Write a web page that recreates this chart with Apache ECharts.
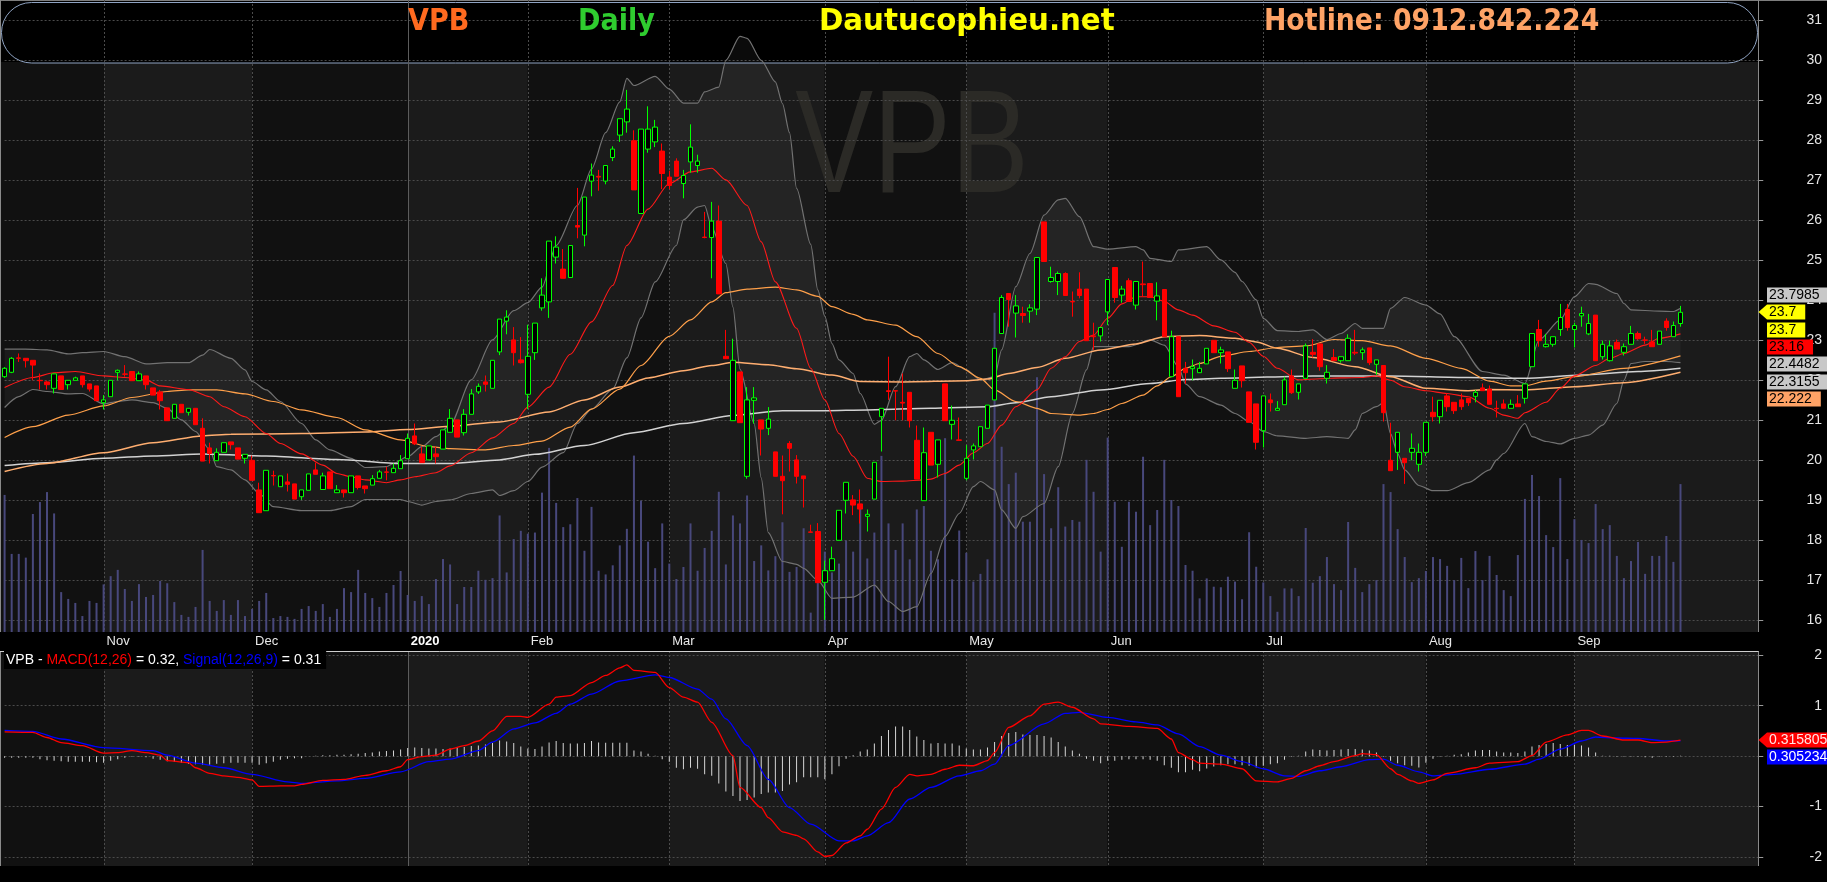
<!DOCTYPE html>
<html><head><meta charset="utf-8">
<script src="https://cdn.jsdelivr.net/npm/echarts@6/dist/echarts.min.js"></script>
<style>html,body{margin:0;padding:0;background:#000;}#c{width:1827px;height:882px;}</style>
</head><body><div id="c"></div>
<script>
// ---------------- DATA ----------------
const tradingDays = [
 ['2019-10',[14,15,16,17,18,21,22,23,24,25,28,29,30,31]],
 ['2019-11',[1,4,5,6,7,8,11,12,13,14,15,18,19,20,21,22,25,26,27,28,29]],
 ['2019-12',[2,3,4,5,6,9,10,11,12,13,16,17,18,19,20,23,24,25,26,27,30,31]],
 ['2020-01',[2,3,6,7,8,9,10,13,14,15,16,17,20,21,22,30,31]],
 ['2020-02',[3,4,5,6,7,10,11,12,13,14,17,18,19,20,21,24,25,26,27,28]],
 ['2020-03',[2,3,4,5,6,9,10,11,12,13,16,17,18,19,20,23,24,25,26,27,30,31]],
 ['2020-04',[1,3,6,7,8,9,10,13,14,15,16,17,20,21,22,23,24,27,28,29]],
 ['2020-05',[4,5,6,7,8,11,12,13,14,15,18,19,20,21,22,25,26,27,28,29]],
 ['2020-06',[1,2,3,4,5,8,9,10,11,12,15,16,17,18,19,22,23,24,25,26,29,30]],
 ['2020-07',[1,2,3,6,7,8,9,10,13,14,15,16,17,20,21,22,23,24,27,28,29,30,31]],
 ['2020-08',[3,4,5,6,7,10,11,12,13,14,17,18,19,20,21,24,25,26,27,28,31]],
 ['2020-09',[1,3,4,7,8,9,10,11,14,15,16,17,18,21,22,23]]
];
const futureSlots = 11;
const monthNames = ['Jan','Feb','Mar','Apr','May','Jun','Jul','Aug','Sep','Oct','Nov','Dec'];

// [open, close, low, high]
const candles = [
[22.09,22.30,22.06,22.33],[22.20,22.55,22.18,22.58],[22.56,22.55,22.46,22.67],[22.55,22.49,22.32,22.55],[22.50,22.38,22.00,22.50],
[22.00,21.99,21.77,22.17],[21.96,21.89,21.77,21.99],[21.80,22.16,21.67,22.17],[22.11,21.77,21.77,22.11],[21.89,22.00,21.77,22.00],
[22.00,22.06,22.00,22.09],[22.11,21.89,21.82,22.11],[21.91,21.78,21.72,21.91],[21.86,21.49,21.49,21.86],[21.44,21.51,21.27,21.63],
[21.59,22.00,21.59,22.00],[22.20,22.25,22.00,22.27],[22.16,22.15,22.09,22.38],[22.22,21.99,21.99,22.22],[21.99,22.16,21.99,22.22],
[22.11,21.89,21.77,22.11],[21.81,21.63,21.63,21.81],[21.71,21.49,21.27,21.76],[21.31,20.99,20.99,21.31],[21.05,21.40,21.05,21.40],
[21.40,21.19,21.19,21.40],[21.20,21.30,21.12,21.30],[21.30,20.89,20.89,21.30],[20.80,19.98,19.98,21.05],[20.31,20.17,19.92,20.44],
[19.99,20.20,19.99,20.30],[20.20,20.44,20.20,20.44],[20.46,20.39,20.27,20.46],[20.31,20.03,20.03,20.31],[20.05,20.15,19.92,20.15],
[20.00,19.50,19.50,20.12],[19.26,18.69,18.69,19.44],[18.74,19.75,18.74,19.75],[19.62,19.61,19.37,19.74],[19.34,19.61,19.34,19.61],
[19.46,19.40,19.22,19.67],[19.41,19.03,19.03,19.41],[19.09,19.26,19.01,19.26],[19.25,19.66,19.25,19.66],[19.76,19.65,19.65,19.94],
[19.27,19.61,19.27,19.69],[19.71,19.29,19.29,19.71],[19.19,19.26,19.19,19.38],[19.26,19.19,19.07,19.26],[19.19,19.61,19.19,19.61],
[19.61,19.32,19.27,19.61],[19.36,19.29,19.17,19.36],[19.38,19.54,19.38,19.63],[19.55,19.71,19.55,19.76],[19.71,19.70,19.50,19.84],
[19.69,19.80,19.69,19.92],[19.79,19.99,19.79,20.13],[20.04,20.55,20.04,20.67],[20.61,20.41,20.38,20.92],[20.16,19.94,19.94,20.34],
[20.01,20.36,20.01,20.36],[20.16,20.09,19.92,20.34],[20.28,20.76,20.28,20.76],[20.70,21.05,20.70,21.28],[21.01,20.58,20.58,21.01],
[20.69,21.15,20.62,21.28],[21.15,21.66,21.15,21.78],[21.71,21.85,21.66,21.92],[21.96,21.90,21.72,22.12],[21.80,22.50,21.80,22.50],
[22.71,23.53,22.63,23.53],[23.48,23.58,23.15,23.75],[23.01,22.69,22.37,23.33],[22.51,22.44,22.42,23.08],[21.65,22.60,21.28,23.39],
[22.69,23.43,22.51,23.43],[23.81,24.13,23.74,24.55],[23.96,25.48,23.56,25.48],[25.08,25.33,24.92,25.60],[24.78,24.55,24.55,25.28],
[24.57,25.37,24.57,25.37],[25.87,25.83,25.55,26.81],[25.63,26.58,25.35,26.58],[26.98,27.13,26.60,27.42],[27.10,27.08,26.74,27.26],
[26.98,27.37,26.90,27.37],[27.57,27.78,27.48,27.85],[28.13,28.54,27.96,28.54],[28.46,28.78,28.19,29.26],[27.99,26.76,26.76,28.25],
[26.17,28.28,26.17,28.28],[27.78,28.28,27.69,28.85],[27.96,28.33,27.83,28.51],[27.73,27.17,26.78,27.92],[27.08,26.87,26.78,27.24],
[27.48,27.10,27.10,27.55],[26.92,27.12,26.55,27.26],[27.46,27.83,27.19,28.40],[27.37,27.48,27.19,27.64],[25.58,25.57,25.55,26.21],
[25.57,25.98,24.55,26.46],[25.98,24.16,24.16,26.37],[22.60,22.54,22.54,23.26],[20.99,22.50,20.99,23.04],[22.21,20.94,20.94,22.21],
[19.60,21.51,19.54,21.83],[21.50,21.56,20.92,21.83],[21.01,20.78,20.12,21.01],[20.80,21.03,20.63,21.33],[20.21,19.60,19.60,20.21],
[19.60,19.49,18.65,20.12],[20.42,20.30,19.72,20.48],[20.01,19.60,19.42,20.13],[19.61,19.54,18.82,19.61],[18.21,18.20,18.19,18.39],
[18.22,16.94,16.94,18.43],[16.95,17.24,16.01,17.49],[17.24,17.54,17.24,17.84],[18.00,18.75,18.00,18.75],[19.00,19.45,18.67,19.45],
[19.01,18.88,18.63,19.13],[18.91,18.78,18.42,19.27],[18.60,18.65,18.22,18.77],[19.03,19.95,19.03,19.95],[21.09,21.30,20.22,21.30],
[21.74,21.72,21.51,22.59],[21.74,21.73,21.00,21.74],[21.45,21.43,21.00,22.17],[21.70,20.99,20.82,21.70],[20.50,19.53,19.53,20.87],
[18.99,20.19,18.99,20.82],[20.70,19.88,19.88,20.70],[19.90,20.51,19.57,20.51],[21.91,20.99,20.99,21.91],[20.90,21.00,20.52,21.37],
[20.51,20.50,20.50,21.07],[19.55,20.05,19.50,20.38],[20.26,20.36,20.02,20.42],[20.34,20.84,20.34,20.84],[20.80,21.38,20.80,21.38],
[21.51,22.80,21.51,22.80],[23.17,24.07,23.17,24.13],[24.17,24.02,23.34,24.17],[23.68,23.86,23.07,24.13],[23.67,23.62,23.44,23.84],
[23.73,23.81,23.44,23.90],[23.78,25.07,23.63,25.07],[25.96,24.97,24.97,25.96],[24.47,24.57,24.44,24.84],[24.47,24.67,24.13,24.72],
[24.67,24.12,24.12,24.70],[23.97,23.96,23.59,24.22],[24.28,24.12,24.05,24.70],[24.28,22.99,22.99,24.28],[23.11,23.09,22.76,23.44],
[23.11,23.32,22.97,23.32],[23.71,24.52,23.38,24.52],[24.82,24.07,23.94,24.82],[24.13,24.28,23.94,24.36],[24.49,23.97,23.97,24.55],
[23.88,24.47,23.77,24.47],[24.41,24.39,24.09,24.97],[24.42,24.07,24.07,24.42],[23.98,24.11,23.50,24.45],[24.27,23.09,23.09,24.27],
[22.09,23.09,22.09,23.24],[23.09,21.59,21.59,23.09],[22.30,22.19,21.91,22.46],[22.29,22.34,22.00,22.52],[22.19,22.30,22.19,22.46],
[22.41,22.80,22.41,22.80],[23.00,22.69,22.69,23.00],[22.69,22.76,22.42,22.84],[22.71,22.29,22.21,22.71],[21.80,22.00,21.80,22.27],
[22.36,21.99,21.82,22.36],[21.71,20.95,20.95,21.71],[21.41,20.45,20.27,21.41],[20.74,21.61,20.32,21.61],[21.51,21.44,21.22,21.67],
[21.25,21.30,21.25,21.48],[21.39,22.01,21.39,22.09],[22.11,21.69,21.66,22.27],[21.70,21.91,21.52,21.91],[22.05,22.86,22.05,22.92],
[22.70,22.65,22.57,23.03],[22.91,22.34,22.24,22.91],[22.05,22.20,21.92,22.38],[22.57,22.49,22.49,22.78],[22.49,22.59,22.44,22.59],
[22.49,23.05,22.49,23.15],[22.70,22.68,22.63,23.26],[22.69,22.76,22.51,22.82],[22.81,22.44,22.38,22.81],[22.40,22.51,22.13,22.51],
[22.37,21.19,20.97,22.37],[20.00,19.74,19.74,20.94],[20.20,20.70,19.76,20.70],[20.05,19.94,19.41,20.05],[20.20,20.30,20.00,20.67],
[19.90,20.20,19.72,20.42],[20.20,20.95,20.11,20.95],[21.20,21.09,20.97,21.59],[21.09,21.50,20.92,21.50],[21.61,21.34,21.22,21.67],
[21.45,21.24,21.16,21.45],[21.51,21.34,21.26,21.67],[21.55,21.44,21.36,21.55],[21.60,21.70,21.45,21.76],[21.81,21.74,21.74,21.92],
[21.78,21.40,21.40,21.87],[21.30,21.29,21.07,21.49],[21.41,21.30,21.30,21.52],[21.30,21.40,21.30,21.52],[21.41,21.34,21.34,21.63],
[21.55,21.91,21.42,21.91],[22.34,23.17,22.34,23.17],[23.27,22.99,22.84,23.51],[22.84,22.90,22.82,23.16],[22.90,23.09,22.84,23.09],
[23.27,23.57,23.11,23.91],[23.77,23.32,23.24,23.91],[23.27,23.37,22.82,23.44],[23.61,23.67,23.34,23.84],[23.16,23.42,23.13,23.66],
[23.63,22.49,22.49,23.63],[22.59,22.90,22.52,22.99],[22.49,22.86,22.47,22.99],[22.95,22.78,22.78,23.02],[22.70,22.84,22.62,22.92],
[22.90,23.17,22.90,23.36],[23.17,23.04,23.01,23.22],[23.01,23.00,22.91,23.09],[22.96,22.84,22.84,23.26],[22.90,23.23,22.90,23.23],
[23.48,23.32,23.24,23.55],[23.09,23.37,23.09,23.47],[23.42,23.70,23.34,23.86]
];

// volume, millions of shares
const volume = [
4.81,2.74,2.74,2.61,4.14,4.56,4.91,4.16,1.40,1.16, 1.02,0.56,1.09,1.02,1.67,1.96,2.18,1.51,1.09,1.68,
1.23,1.30,1.79,1.71,1.05,0.60,0.53,0.88,2.88,1.09, 0.74,1.12,0.60,1.12,0.56,0.81,1.09,1.37,0.49,0.56,
0.53,0.46,0.81,0.91,0.74,0.98,0.53,0.81,1.54,1.40, 2.18,1.37,1.19,0.88,1.37,1.65,2.14,1.30,1.09,1.26,
0.98,1.86,2.56,2.37,0.98,1.58,1.58,2.15,1.83,1.89, 4.09,2.09,3.26,3.55,3.45,3.49,4.89,6.46,4.53,3.68,
3.78,4.70,2.85,4.39,2.15,2.02,2.34,3.04,3.62,6.19, 4.61,3.17,2.24,3.81,2.40,1.86,2.28,3.81,2.15,2.95,
3.55,4.92,2.37,4.09,3.81,4.79,2.49,3.04,2.16,2.66, 3.85,2.11,2.28,3.64,0.68,1.73,2.82,2.09,2.40,3.21,
2.82,4.34,2.58,3.49,6.18,3.81,2.88,3.81,2.55,4.30, 4.42,2.85,2.55,6.80,1.85,3.56,2.78,1.77,2.04,2.55,
11.2,6.50,5.19,5.59,3.87,3.87,8.94,5.54,3.64,5.08, 3.70,3.93,3.87,6.04,4.92,2.82,6.82,4.57,2.99,4.57,
4.22,6.15,3.75,4.28,6.04,4.63,4.42,2.35,2.15,1.18, 1.88,1.59,1.57,1.94,1.77,1.15,3.50,2.29,1.74,1.26,
0.71,1.53,1.53,1.26,3.65,1.73,1.96,2.63,1.68,1.47, 3.86,2.25,1.40,1.68,1.82,5.19,4.91,3.61,2.63,1.75,
1.89,2.14,2.63,2.56,2.32,1.82,2.60,1.54,2.84,1.82, 2.67,2.00,1.47,1.26,2.70,4.67,5.51,4.77,3.40,2.98,
5.40,2.56,3.96,3.23,3.12,4.49,3.61,3.75,2.67,1.89, 2.49,3.16,2.04,2.67,2.67,3.37,2.46,5.19
];

// moving averages and Bollinger bands, read as [day index, value]
const ma20 = [[0,21.82],[4,22.07],[7,22.19],[10,22.22],[14,22.11],[17,22.07],[20,22.01],[22,21.86],[26,21.77],[29,21.59],[31,21.34],[34,21.09],[37,20.67],[39,20.42],[42,20.16],[45,19.88],[47,19.67],[49,19.59],[51,19.51],[54,19.44],[56,19.51],[58,19.59],[61,19.69],[63,19.86],[66,20.19],[69,20.56],[72,20.92],[74,21.33],[77,21.83],[80,22.65],[83,23.46],[86,24.37],[88,25.37],[91,26.28],[94,26.92],[97,27.21],[100,27.30],[102,27.01],[105,26.37],[107,25.46],[109,24.46],[112,23.30],[114,22.30],[116,21.51],[118,20.67],[120,20.10],[122,19.55],[124,19.47],[127,19.48],[130,19.51],[131,19.53],[133,19.67],[135,19.88],[137,20.19],[139,20.42],[141,20.88],[143,21.34],[146,21.76],[148,22.30],[150,22.59],[152,22.97],[154,23.13],[156,23.55],[158,23.91],[160,24.09],[162,24.09],[164,23.97],[166,23.76],[168,23.63],[171,23.36],[174,23.20],[176,22.95],[178,22.60],[180,22.30],[183,22.01],[186,22.04],[189,22.06],[192,22.07],[194,22.11],[196,22.00],[198,21.84],[201,21.74],[204,21.67],[207,21.59],[210,21.30],[212,21.13],[214,21.05],[215,21.19],[218,21.45],[220,21.80],[222,22.11],[225,22.37],[227,22.55],[229,22.67],[232,22.88],[234,23.05],[237,23.16]];
const ma50 = [[0,20.57],[4,20.84],[9,21.13],[14,21.36],[18,21.57],[23,21.72],[26,21.76],[30,21.76],[34,21.66],[38,21.47],[42,21.26],[47,21.07],[51,20.76],[56,20.51],[60,20.34],[63,20.29],[68,20.26],[72,20.37],[76,20.48],[80,20.83],[83,21.28],[87,21.78],[90,22.37],[94,23.10],[97,23.51],[100,23.96],[102,24.19],[105,24.28],[109,24.33],[112,24.26],[115,24.10],[117,23.84],[120,23.65],[122,23.51],[126,23.38],[129,23.09],[132,22.67],[135,22.34],[138,22.05],[140,21.76],[143,21.47],[146,21.30],[148,21.17],[152,21.13],[154,21.17],[156,21.27],[158,21.42],[161,21.63],[163,21.86],[165,22.09],[167,22.30],[169,22.42],[172,22.60],[176,22.72],[180,22.82],[184,22.86],[188,23.02],[192,22.99],[196,22.86],[201,22.55],[206,22.30],[210,21.98],[213,21.86],[215,21.86],[218,21.98],[222,22.09],[229,22.30],[237,22.61]];
const ma100 = [[0,19.72],[6,19.92],[14,20.19],[21,20.44],[28,20.61],[32,20.65],[42,20.67],[51,20.71],[57,20.77],[63,20.85],[70,20.96],[77,21.21],[82,21.51],[87,21.83],[91,22.06],[96,22.24],[100,22.37],[103,22.45],[108,22.39],[112,22.29],[117,22.13],[121,21.97],[127,21.96],[136,21.99],[139,22.03],[142,22.17],[146,22.32],[150,22.55],[155,22.76],[160,22.91],[164,23.09],[169,23.12],[174,23.05],[177,22.96],[180,22.80],[185,22.57],[191,22.34],[196,22.09],[201,21.80],[207,21.74],[210,21.77],[215,21.76],[222,21.84],[229,21.94],[237,22.20]];
const ma200 = [[0,19.87],[6,19.94],[14,20.05],[21,20.11],[28,20.16],[37,20.11],[47,20.02],[56,19.92],[63,19.92],[70,20.01],[75,20.15],[82,20.37],[89,20.69],[96,20.92],[103,21.12],[110,21.24],[116,21.24],[122,21.26],[131,21.30],[139,21.34],[143,21.44],[148,21.59],[155,21.76],[162,21.92],[167,22.02],[172,22.05],[185,22.11],[196,22.11],[207,22.07],[215,22.05],[223,22.13],[231,22.22],[237,22.30]];
const bbUpper = [[0,22.78],[3,22.78],[6,22.76],[9,22.66],[11,22.69],[14,22.72],[17,22.59],[20,22.41],[23,22.44],[26,22.44],[28,22.63],[29,22.77],[32,22.55],[34,22.26],[35,21.97],[37,21.76],[39,21.47],[42,20.92],[44,20.51],[46,20.26],[49,20.05],[51,19.82],[54,19.84],[55,19.92],[57,20.09],[59,20.34],[61,20.59],[63,20.88],[66,22.01],[69,23.01],[72,23.74],[74,23.94],[76,24.33],[78,25.37],[81,26.37],[83,27.28],[85,28.19],[87,28.96],[88,29.55],[89,29.37],[92,29.60],[94,29.28],[96,28.93],[98,28.93],[99,29.21],[101,29.33],[102,30.00],[104,30.60],[105,30.55],[107,30.00],[109,29.46],[110,28.92],[111,28.19],[112,26.80],[114,25.40],[115,24.26],[116,23.60],[117,22.92],[118,22.51],[120,22.17],[121,21.67],[123,20.90],[124,21.00],[126,21.84],[128,22.59],[129,22.67],[130,22.51],[132,22.27],[134,22.44],[136,22.26],[138,22.01],[140,22.09],[141,22.76],[143,24.34],[145,25.17],[147,26.13],[149,26.51],[150,26.55],[152,26.09],[154,25.34],[156,25.28],[160,25.34],[161,25.26],[162,25.05],[165,24.97],[166,25.26],[170,25.34],[172,25.01],[174,24.70],[175,24.47],[177,24.01],[178,23.55],[180,23.24],[183,23.22],[185,23.26],[187,23.02],[189,23.17],[191,23.42],[192,23.30],[195,23.30],[196,23.80],[198,24.07],[201,23.88],[203,23.66],[205,23.09],[209,22.22],[212,22.13],[215,21.92],[217,23.01],[220,23.51],[222,24.09],[224,24.42],[225,24.40],[228,24.17],[229,23.92],[230,23.76],[234,23.73],[236,23.72],[237,23.80]];
const bbLower = [[0,21.32],[2,21.59],[4,21.77],[6,21.72],[9,21.66],[11,21.67],[14,21.41],[16,21.47],[18,21.51],[21,21.44],[23,21.30],[25,21.01],[27,20.72],[29,20.27],[30,19.84],[32,19.76],[34,19.51],[36,19.17],[38,18.84],[42,18.74],[46,18.74],[49,18.84],[51,19.02],[56,19.02],[57,18.97],[59,18.88],[61,18.97],[63,19.01],[66,19.17],[69,19.26],[70,19.12],[72,19.24],[74,19.47],[76,19.83],[79,20.19],[81,20.92],[83,21.28],[86,21.78],[88,22.56],[90,23.56],[92,24.46],[95,25.37],[96,26.01],[98,26.33],[99,26.37],[100,25.83],[102,24.92],[103,23.83],[104,22.28],[106,20.92],[107,19.56],[108,18.19],[110,17.47],[112,17.40],[113,17.30],[115,17.00],[117,16.55],[120,16.58],[123,16.88],[125,16.47],[127,16.22],[129,16.34],[131,17.17],[133,18.09],[135,18.67],[137,19.34],[138,19.47],[140,19.26],[141,18.76],[143,18.30],[144,18.59],[147,18.92],[149,19.84],[151,21.17],[153,22.26],[154,22.84],[159,22.84],[162,23.01],[164,22.88],[166,22.34],[167,21.91],[169,21.59],[172,21.38],[174,21.17],[176,20.97],[178,20.72],[180,20.61],[184,20.55],[187,20.59],[190,20.55],[191,20.76],[192,21.17],[194,21.34],[195,21.44],[196,20.67],[197,20.17],[198,19.76],[200,19.37],[202,19.24],[204,19.24],[207,19.44],[210,19.76],[211,20.01],[212,20.17],[215,20.92],[216,20.59],[218,20.47],[220,20.41],[222,20.55],[224,20.63],[226,20.88],[228,21.42],[229,22.00],[230,22.42],[232,22.47],[235,22.47],[237,22.44]];

// MACD(12,26), signal(12,26,9), read as [day index, value]
const macdLine = [[0,0.48],[4,0.47],[6,0.37],[8,0.27],[11,0.21],[14,0.06],[16,0.07],[18,0.11],[20,0.07],[22,0.02],[23,-0.09],[26,-0.13],[27,-0.23],[29,-0.34],[31,-0.39],[33,-0.42],[35,-0.47],[36,-0.60],[39,-0.59],[41,-0.59],[42,-0.56],[45,-0.48],[48,-0.46],[51,-0.38],[54,-0.29],[56,-0.21],[57,-0.07],[59,-0.01],[61,0.02],[63,0.14],[65,0.21],[67,0.30],[69,0.50],[71,0.79],[73,0.79],[74,0.77],[77,1.03],[78,1.17],[80,1.20],[83,1.46],[85,1.60],[87,1.75],[88,1.81],[89,1.70],[92,1.66],[94,1.36],[96,1.17],[98,1.07],[100,0.67],[103,0.01],[104,-0.62],[107,-1.02],[108,-1.22],[110,-1.50],[112,-1.57],[113,-1.64],[115,-1.90],[116,-1.99],[117,-1.97],[119,-1.72],[121,-1.58],[122,-1.45],[124,-1.05],[126,-0.62],[128,-0.36],[129,-0.39],[131,-0.36],[133,-0.26],[135,-0.18],[137,-0.19],[139,-0.09],[140,0.07],[142,0.57],[145,0.80],[147,1.03],[149,1.07],[151,0.97],[154,0.74],[155,0.64],[159,0.59],[163,0.55],[165,0.34],[166,0.07],[168,-0.07],[169,-0.14],[172,-0.16],[175,-0.25],[177,-0.49],[180,-0.51],[182,-0.44],[184,-0.29],[186,-0.19],[188,-0.11],[191,0.01],[192,0.05],[194,0.03],[196,-0.25],[197,-0.36],[199,-0.49],[200,-0.54],[202,-0.47],[204,-0.34],[208,-0.23],[210,-0.14],[214,-0.11],[216,0.01],[218,0.28],[221,0.42],[223,0.51],[224,0.51],[226,0.40],[229,0.32],[231,0.32],[233,0.27],[235,0.28],[237,0.316]];
const signalLine = [[0,0.51],[4,0.49],[8,0.34],[14,0.17],[21,0.11],[23,0.02],[27,-0.14],[31,-0.23],[35,-0.36],[40,-0.51],[42,-0.54],[47,-0.49],[51,-0.44],[56,-0.31],[60,-0.11],[63,-0.06],[67,0.11],[69,0.28],[72,0.54],[75,0.66],[78,0.85],[80,1.03],[83,1.23],[87,1.49],[92,1.61],[94,1.56],[98,1.33],[100,1.13],[102,0.74],[105,0.21],[108,-0.46],[111,-1.02],[114,-1.35],[118,-1.68],[120,-1.68],[122,-1.58],[125,-1.32],[128,-0.85],[131,-0.62],[135,-0.39],[138,-0.29],[140,-0.16],[142,0.21],[147,0.64],[150,0.85],[152,0.87],[156,0.77],[160,0.68],[163,0.62],[166,0.44],[169,0.19],[172,0.02],[175,-0.11],[178,-0.25],[181,-0.39],[183,-0.40],[186,-0.29],[189,-0.21],[193,-0.07],[195,-0.06],[197,-0.18],[200,-0.31],[202,-0.39],[205,-0.36],[210,-0.26],[215,-0.16],[217,-0.06],[220,0.14],[223,0.30],[225,0.38],[228,0.36],[231,0.35],[235,0.30],[237,0.305]];
const macdHist = [
-0.03,-0.03,-0.03,-0.03,-0.03,-0.06,-0.08,-0.09,-0.10,-0.11, -0.11,-0.11,-0.11,-0.12,-0.13,-0.09,-0.06,-0.03,-0.01,-0.01,
-0.02,-0.05,-0.07,-0.10,-0.11,-0.13,-0.15,-0.16,-0.17,-0.17, -0.15,-0.14,-0.13,-0.13,-0.13,-0.13,-0.17,-0.14,-0.11,-0.07,
-0.05,-0.04,-0.04,0.00,0.01,0.02,0.02,0.03,0.03,0.04, 0.05,0.06,0.07,0.09,0.10,0.11,0.13,0.16,0.17,0.16,
0.15,0.15,0.14,0.15,0.17,0.18,0.20,0.21,0.23,0.26, 0.31,0.29,0.26,0.19,0.15,0.14,0.19,0.27,0.30,0.26,
0.25,0.25,0.26,0.30,0.27,0.265,0.265,0.265,0.265,0.11, 0.09,0.05,0.01,-0.06,-0.11,-0.23,-0.26,-0.23,-0.25,-0.36,
-0.39,-0.54,-0.70,-0.79,-0.89,-0.87,-0.82,-0.75,-0.72,-0.72, -0.69,-0.56,-0.52,-0.42,-0.42,-0.42,-0.46,-0.36,-0.20,-0.05,
0.02,0.09,0.13,0.25,0.40,0.52,0.59,0.59,0.52,0.39, 0.32,0.25,0.26,0.25,0.25,0.21,0.15,0.13,0.13,0.17,
0.28,0.40,0.46,0.48,0.43,0.42,0.42,0.40,0.37,0.28, 0.19,0.11,0.05,-0.05,-0.09,-0.14,-0.09,-0.09,-0.07,-0.06,
-0.06,-0.06,-0.07,-0.09,-0.18,-0.23,-0.32,-0.32,-0.27,-0.30, -0.245,-0.205,-0.18,-0.16,-0.16,-0.18,-0.19,-0.225,-0.19,-0.16,
-0.14,-0.07,-0.01,0.01,0.09,0.13,0.12,0.11,0.12,0.13, 0.14,0.14,0.13,0.11,0.07,-0.01,-0.09,-0.14,-0.18,-0.19,
-0.225,-0.13,-0.05,-0.01,0.01,0.03,0.04,0.07,0.11,0.12, 0.12,0.09,0.07,0.07,0.06,0.09,0.19,0.22,0.24,0.26,
0.24,0.22,0.22,0.21,0.17,0.07,0.01,0.01,-0.01,-0.01, -0.01,-0.01,-0.02,-0.03,-0.01,-0.01,-0.01,0.01
];

const priceTicks = {min:16, max:31, step:1};
const macdTicks = {min:-2, max:2, step:1};
const priceTags = [
  {v:'23.7985', bg:'#c8c8c8', fg:'#000'},
  {v:'23.7', bg:'#ffff00', fg:'#000', arrow:true},
  {v:'23.7', bg:'#ffff00', fg:'#000'},
  {v:'23.16', bg:'#ff0000', fg:'#000'},
  {v:'22.4482', bg:'#c8c8c8', fg:'#000'},
  {v:'22.3155', bg:'#c8c8c8', fg:'#000'},
  {v:'22.222', bg:'#ffa366', fg:'#000'}
];
const macdTags = [
  {v:'0.315805', bg:'#ff0000', fg:'#ffe6e6', arrow:true},
  {v:'0.305234', bg:'#0000ff', fg:'#ffffff'}
];
const header = [
  {text:'VPB', color:'#ff6a1f'},
  {text:'Daily', color:'#2fcc2f'},
  {text:'Dautucophieu.net', color:'#ffff00'},
  {text:'Hotline: 0912.842.224', color:'#ffa366'}
];
const ticker = 'VPB';

// ---------------- BUILD ----------------
const categories = [];
tradingDays.forEach(([ym, days]) => days.forEach(d => categories.push(ym + '-' + String(d).padStart(2,'0'))));
const nDays = categories.length;
for (let k = 0; k < futureSlots; k++) categories.push('f' + k);
const monthStarts = [];
categories.forEach((c, i) => { if (i < nDays && (i === 0 || c.slice(0,7) !== categories[i-1].slice(0,7))) monthStarts.push(i); });
const monthStartSet = new Set(monthStarts);

const DARK = '#111111', LIGHT = '#1b1b1b', GRIDC = '#4b4b4b';
const FONT = '"Liberation Sans", Arial, sans-serif';
const GL = 4.6, GR = 68.74;
const gridBase = {left: GL, right: GR, containLabel: false, outerBoundsMode: 'none'};

function xAx(gi, labels) {
  return {
    type: 'category', gridIndex: gi, data: categories, boundaryGap: false,
    axisLine: {show: false}, axisTick: {show: false}, splitLine: {show: false},
    axisLabel: labels ? {
      show: true, interval: (idx) => idx > 0 && monthStartSet.has(idx),
      formatter: (val) => { const m = +val.slice(5,7); return m === 1 ? '{b|' + val.slice(0,4) + '}' : monthNames[m-1]; },
      align: 'left', verticalAlign: 'top', margin: 3, padding: [0,0,0,3],
      color: '#e8e8e8', fontSize: 13, fontFamily: FONT,
      rich: {b: {fontWeight: 'bold', fontSize: 13, color: '#ffffff', fontFamily: FONT}}
    } : {show: false}
  };
}
function yAxVal(gi, t) {
  return {
    type: 'value', gridIndex: gi, position: 'right', min: t.min, max: t.max, interval: t.step,
    axisLine: {show: false},
    axisTick: {show: true, length: 5, lineStyle: {color: '#9a9a9a'}},
    axisLabel: {color: '#e6e6e6', fontSize: 14, fontFamily: FONT, align: 'right', margin: 63.7},
    splitLine: {show: true, lineStyle: {color: GRIDC, type: [2,2], width: 1}}
  };
}

function bandsRender(params, api) {
  const cs = params.coordSys; const kids = [];
  for (let k = 0; k < monthStarts.length; k++) {
    const x0 = k === 0 ? 0 : api.coord([monthStarts[k], 0])[0];
    const x1 = k + 1 < monthStarts.length ? api.coord([monthStarts[k+1], 0])[0] : cs.x + cs.width;
    kids.push({type: 'rect', shape: {x: x0, y: cs.y, width: x1 - x0, height: cs.height}, style: {fill: k % 2 ? LIGHT : DARK}});
  }
  return {type: 'group', children: kids};
}
function frameRender(y0, y1, topBorder) {
  return function (params, api) {
    const cs = params.coordSys; const kids = [];
    for (let k = 1; k < monthStarts.length; k++) {
      const x = Math.round(api.coord([monthStarts[k], 0])[0]) + 0.5;
      const isYear = categories[monthStarts[k]].slice(5,7) === '01';
      const st = isYear ? {stroke: '#5c5c5c', lineWidth: 1} : {stroke: GRIDC, lineWidth: 1, lineDash: [2,2]};
      kids.push({type: 'line', shape: {x1: x, y1: y0, x2: x, y2: y1}, style: st});
    }
    const xr = Math.round(cs.x + cs.width) + 0.5;
    kids.push({type: 'line', shape: {x1: xr, y1: y0, x2: xr, y2: y1}, style: {stroke: '#8a8a8a', lineWidth: 1}});
    kids.push({type: 'line', shape: {x1: 0.5, y1: y0, x2: 0.5, y2: y1}, style: {stroke: '#8a8a8a', lineWidth: 1}});
    if (topBorder) kids.push({type: 'line', shape: {x1: 0, y1: y0 + 0.5, x2: xr, y2: y0 + 0.5}, style: {stroke: '#cfcfcf', lineWidth: 1}});
    return {type: 'group', children: kids};
  };
}
function bbFillRender(params, api) {
  const up = bbUpper.map(p => api.coord(p));
  const lo = bbLower.map(p => api.coord(p)).reverse();
  return {type: 'polygon', shape: {points: up.concat(lo)}, style: {fill: 'rgba(255,255,255,0.045)'}};
}
function lineSeries(data, color, width, z) {
  return {type: 'line', xAxisIndex: 1, yAxisIndex: 1, data: data, showSymbol: false, symbol: 'none',
    smooth: 0.25, smoothMonotone: 'x', lineStyle: {color: color, width: width}, z: z, silent: true};
}

const chart = echarts.init(document.getElementById('c'), null, {renderer: 'canvas'});
const option = {
  backgroundColor: '#000',
  animation: false,
  grid: [
    Object.assign({top: 62, height: 570}, gridBase),
    Object.assign({top: 20.3, height: 600}, gridBase),
    Object.assign({top: 651, height: 215}, gridBase),
    Object.assign({top: 655.3, height: 201.7}, gridBase)
  ],
  xAxis: [xAx(0, true), xAx(1, false), xAx(2, false), xAx(3, false)],
  yAxis: [
    {type: 'value', gridIndex: 0, min: 0, max: 20, show: false},
    yAxVal(1, priceTicks),
    {type: 'value', gridIndex: 2, min: 0, max: 1, show: false},
    yAxVal(3, macdTicks)
  ],
  series: [
    {type: 'custom', xAxisIndex: 0, yAxisIndex: 0, data: [[0, 0]], renderItem: bandsRender, z: -10, silent: true},
    {type: 'custom', xAxisIndex: 0, yAxisIndex: 0, data: [[0, 0]], renderItem: frameRender(0, 632, false), z: 0.5, silent: true},
    {type: 'custom', xAxisIndex: 2, yAxisIndex: 2, data: [[0, 0]], renderItem: bandsRender, z: -10, silent: true},
    {type: 'custom', xAxisIndex: 2, yAxisIndex: 2, data: [[0, 0]], renderItem: frameRender(651, 866, true), z: 0.5, silent: true},
    {type: 'custom', xAxisIndex: 1, yAxisIndex: 1, data: [[0, 20]], renderItem: bbFillRender, z: 1, silent: true},
    {type: 'bar', xAxisIndex: 0, yAxisIndex: 0, data: volume, barWidth: 2, itemStyle: {color: '#48487c'}, z: 1.5, silent: true},
    lineSeries(bbUpper, '#727272', 1.2, 2),
    lineSeries(bbLower, '#727272', 1.2, 2),
    lineSeries(ma200, '#d2d2d2', 1.5, 2),
    lineSeries(ma100, '#ffae70', 1.5, 2),
    lineSeries(ma50, '#ffa04a', 1.2, 2),
    lineSeries(ma20, '#ff1a1a', 1.1, 2),
    {type: 'candlestick', xAxisIndex: 1, yAxisIndex: 1, data: candles, barWidth: 5, z: 3, silent: true,
      itemStyle: {color: '#000000', color0: '#ff0000', borderColor: '#00ff00', borderColor0: '#ff0000', borderWidth: 1}},
    {type: 'bar', xAxisIndex: 3, yAxisIndex: 3, data: macdHist, barWidth: 1, itemStyle: {color: '#d6d6d6'}, z: 2, silent: true},
    {type: 'line', xAxisIndex: 3, yAxisIndex: 3, data: signalLine, showSymbol: false, symbol: 'none', smooth: 0.25, smoothMonotone: 'x', lineStyle: {color: '#0000ff', width: 1.3}, z: 3, silent: true},
    {type: 'line', xAxisIndex: 3, yAxisIndex: 3, data: macdLine, showSymbol: false, symbol: 'none', smooth: 0.25, smoothMonotone: 'x', lineStyle: {color: '#ff0000', width: 1.3}, z: 3, silent: true}
  ]
};
chart.setOption(option);

// ---------------- GRAPHICS ----------------
const g = [];
g.push({id: 'topline', type: 'line', shape: {x1: 0, y1: 0.5, x2: 1827, y2: 0.5}, style: {stroke: '#7d7d7d', lineWidth: 1}, z: -8});
g.push({id: 'pill', type: 'rect', shape: {x: 1.5, y: 2.5, width: 1756, height: 60.5, r: 30}, style: {fill: '#000', stroke: '#8fa3c2', lineWidth: 1}, z: -8});
g.push({id: 'wm', type: 'text', x: 912, y: 152, scaleX: 0.8, z: -7, silent: true,
  style: {text: ticker, font: '146px ' + FONT, fill: '#2b2a26', align: 'center', verticalAlign: 'middle'}});
const hx = [408, 578, 819, 1264];
const hs = [1, 1, 1.085, 0.99];
header.forEach((h, k) => g.push({id: 'h' + k, type: 'text', x: hx[k], y: 22.5, scaleX: hs[k], scaleY: 1.12, z: 20,
  style: {text: h.text, font: 'bold 27px "DejaVu Sans", Verdana, sans-serif', fill: h.color, verticalAlign: 'middle'}}));
g.push({id: 'macdlegend', type: 'text', x: 4, y: 660, z: 20, style: {
  text: '{w|' + ticker + ' - }{r|MACD(12,26)}{w| = 0.32, }{b|Signal(12,26,9)}{w| = 0.31}',
  font: '14px ' + FONT, fill: '#fff', backgroundColor: '#000', padding: [2, 5, 2, 2], verticalAlign: 'middle',
  rich: {w: {fill: '#ffffff', font: '14px ' + FONT}, r: {fill: '#ff0000', font: '14px ' + FONT}, b: {fill: '#0000ff', font: '14px ' + FONT}}}});

function addTags(list, axisIdx, anchorIdx, step, prefix) {
  const yA = chart.convertToPixel({yAxisIndex: axisIdx}, parseFloat(list[anchorIdx].v));
  list.forEach((t, k) => {
    const y = Math.round(yA + (k - anchorIdx) * step);
    if (t.arrow) g.push({id: prefix + 'a' + k, type: 'polygon', z: 21, shape: {points: [[1758.5, y], [1767, y - 7.5], [1767, y + 7.5]]}, style: {fill: t.bg}});
    g.push({id: prefix + k, type: 'text', x: 1767, y: y, z: 21, style: {
      text: t.v, font: '14px ' + FONT, fill: t.fg, backgroundColor: t.bg, padding: [1, 9, 0, 2], verticalAlign: 'middle', align: 'left', lineHeight: 14}});
  });
}
addTags(priceTags, 1, 1, 17.3, 'pt');
addTags(macdTags, 3, 0, 16.8, 'mt');
chart.setOption({graphic: g});
</script></body></html>
